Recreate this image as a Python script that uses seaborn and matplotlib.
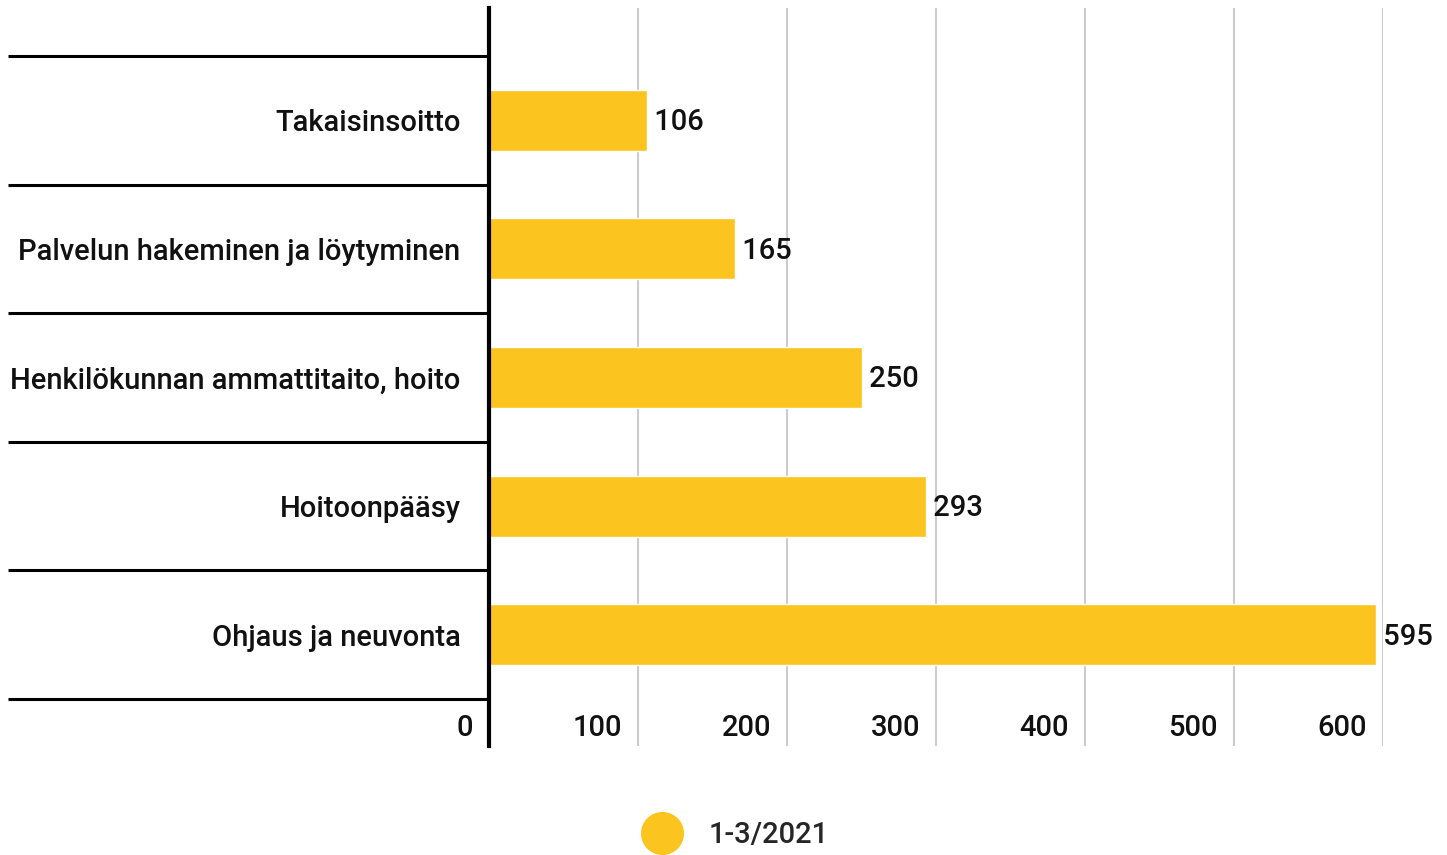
import matplotlib
matplotlib.use("Agg")
import matplotlib.pyplot as plt
import matplotlib.transforms as mtransforms
from matplotlib.lines import Line2D
import seaborn as sns
import pandas as pd

categories = ["Takaisinsoitto", "Palvelun hakeminen ja löytyminen",
              "Henkilökunnan ammattitaito, hoito", "Hoitoonpääsy",
              "Ohjaus ja neuvonta"]
values = [106, 165, 250, 293, 595]
series_name = "1-3/2021"
x_ticks = [0, 100, 200, 300, 400, 500, 600]

BAR = "#FCC41E"
FONT = ["Roboto", "DejaVu Sans"]
FS = 21

sns.set_style("white")
plt.rcParams["font.family"] = FONT
plt.rcParams["font.weight"] = "medium"

df = pd.DataFrame({"category": categories, "value": values})

W, H = 1447, 855
fig = plt.figure(figsize=(W / 100, H / 100), dpi=100)
ax = fig.add_axes([489 / W, 1 - 746 / H, (1383 - 489) / W, (746 - 8) / H])

sns.barplot(data=df, x="value", y="category", orient="h", color=BAR,
            width=0.475, saturation=1, ax=ax, zorder=3)

ax.set_xlim(0, 600)
ax.set_ylim(4.866, -0.873)
ax.set_xlabel("")
ax.set_ylabel("")

# vertical gridlines
ax.set_xticks(x_ticks)
ax.xaxis.grid(True, color="#cccccc", linewidth=1.5, zorder=0)
ax.yaxis.grid(False)
ax.tick_params(axis="x", length=0, labelbottom=False)

# x tick labels sit inside the plot, right-aligned left of each gridline
xform = mtransforms.blended_transform_factory(ax.transData, ax.transAxes)
shift = mtransforms.ScaledTranslation(-16 / 100, 0, fig.dpi_scale_trans)
for t in x_ticks:
    ax.text(t, 18 / 738, f"{t}", transform=xform + shift, ha="right",
            va="center", fontsize=FS, color="#111111", fontweight="medium")

# category labels
ax.tick_params(axis="y", length=0, pad=20.5, labelsize=FS, labelcolor="#111111")

# spines
for s in ["top", "right", "bottom"]:
    ax.spines[s].set_visible(False)
ax.spines["left"].set_color("black")
ax.spines["left"].set_linewidth(3)
ax.spines["left"].set_zorder(5)

# band separators to the left of the axis
yform = mtransforms.blended_transform_factory(ax.transAxes, ax.transData)
x0 = (8 - 489) / (1383 - 489)
for i in range(len(categories) + 1):
    ax.plot([x0, 0], [i - 0.5, i - 0.5], transform=yform, color="black",
            linewidth=2.2, clip_on=False, solid_capstyle="butt")

# value labels, nudged slightly down
down = mtransforms.ScaledTranslation(0, -2 / 100, fig.dpi_scale_trans)
for i, v in enumerate(values):
    ax.text(v, i, f" {v}", ha="left", va="center", fontsize=FS,
            color="#111111", clip_on=False, fontweight="medium",
            transform=ax.transData + down)

handle = Line2D([], [], marker="o", linestyle="none", markersize=30,
                markerfacecolor=BAR, markeredgecolor=BAR)
fig.legend([handle], [series_name], loc="center",
           bbox_to_anchor=(731 / W, 1 - 835 / H), frameon=False,
           fontsize=FS, handletextpad=0.6, borderpad=0)

fig.savefig("out.png", dpi=100)
